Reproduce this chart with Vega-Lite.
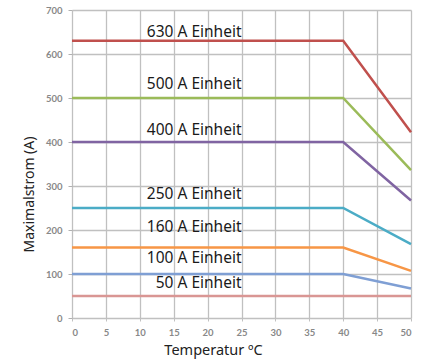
{
  "$schema": "https://vega.github.io/schema/vega-lite/v6.json",
  "width": 339,
  "height": 308,
  "autosize": "none",
  "padding": {"left": 72, "top": 10, "right": 14, "bottom": 43},
  "background": "white",
  "config": {"view": {"stroke": null}},
  "datasets": {
    "lines": [
      {"serie": "630", "t": 0, "a": 630}, {"serie": "630", "t": 40, "a": 630}, {"serie": "630", "t": 50, "a": 422},
      {"serie": "500", "t": 0, "a": 500}, {"serie": "500", "t": 40, "a": 500}, {"serie": "500", "t": 50, "a": 336},
      {"serie": "400", "t": 0, "a": 400}, {"serie": "400", "t": 40, "a": 400}, {"serie": "400", "t": 50, "a": 267},
      {"serie": "250", "t": 0, "a": 250}, {"serie": "250", "t": 40, "a": 250}, {"serie": "250", "t": 50, "a": 168},
      {"serie": "160", "t": 0, "a": 160}, {"serie": "160", "t": 40, "a": 160}, {"serie": "160", "t": 50, "a": 107},
      {"serie": "100", "t": 0, "a": 100}, {"serie": "100", "t": 40, "a": 100}, {"serie": "100", "t": 50, "a": 67},
      {"serie": "50", "t": 0, "a": 50}, {"serie": "50", "t": 40, "a": 50}, {"serie": "50", "t": 50, "a": 50}
    ],
    "labels": [
      {"label": "630 A Einheit", "t": 25, "a": 649},
      {"label": "500 A Einheit", "t": 25, "a": 531},
      {"label": "400 A Einheit", "t": 25, "a": 428},
      {"label": "250 A Einheit", "t": 25, "a": 281},
      {"label": "160 A Einheit", "t": 25, "a": 206},
      {"label": "100 A Einheit", "t": 25, "a": 137},
      {"label": "50 A Einheit", "t": 25, "a": 80}
    ]
  },
  "encoding": {
    "x": {
      "field": "t", "type": "quantitative",
      "scale": {"domain": [0, 50], "nice": false},
      "axis": {
        "values": [0, 5, 10, 15, 20, 25, 30, 35, 40, 45, 50],
        "labelOverlap": false,
        "title": "Temperatur ºC",
        "titleFont": "Noto Sans", "titleFontSize": 14.5, "titleFontWeight": "normal", "titleColor": "#222",
        "titleX": 141, "titleY": 32, "titleAlign": "center", "titleBaseline": "middle",
        "labelFont": "Lato", "labelFontSize": 9.5, "labelColor": "#888", "labelFontWeight": "bold",
        "labelPadding": 6, "tickSize": 3, "tickColor": "#c0c0c0",
        "domain": false, "gridColor": "#c0c0c0", "gridWidth": 1.3
      }
    },
    "y": {
      "field": "a", "type": "quantitative",
      "scale": {"domain": [0, 700], "nice": false},
      "axis": {
        "values": [0, 100, 200, 300, 400, 500, 600, 700],
        "labelOverlap": false,
        "title": "Maximalstrom (A)",
        "titleFont": "Noto Sans", "titleFontSize": 14, "titleFontWeight": "normal", "titleColor": "#222",
        "titleX": -43, "titleY": 184, "titleAlign": "center", "titleBaseline": "middle", "titleAngle": -90,
        "labelFont": "Lato", "labelFontSize": 9.5, "labelColor": "#888", "labelFontWeight": "bold",
        "labelPadding": 6, "tickSize": 4, "tickColor": "#b0b0b0",
        "domain": false, "gridColor": "#c0c0c0", "gridWidth": 1.3
      }
    }
  },
  "layer": [
    {
      "data": {"name": "lines"},
      "mark": {"type": "line", "strokeWidth": 2.5},
      "encoding": {
        "color": {
          "field": "serie", "type": "nominal", "legend": null,
          "scale": {
            "domain": ["630", "500", "400", "250", "160", "100", "50"],
            "range": ["#c0504d", "#9bbb59", "#8064a2", "#4bacc6", "#f79646", "#7f9fd4", "#d99694"]
          }
        }
      }
    },
    {
      "data": {"name": "labels"},
      "mark": {"type": "text", "align": "right", "baseline": "middle", "font": "Noto Sans", "fontSize": 15.5, "color": "#1a1a1a"},
      "encoding": {
        "text": {"field": "label"}
      }
    }
  ]
}
